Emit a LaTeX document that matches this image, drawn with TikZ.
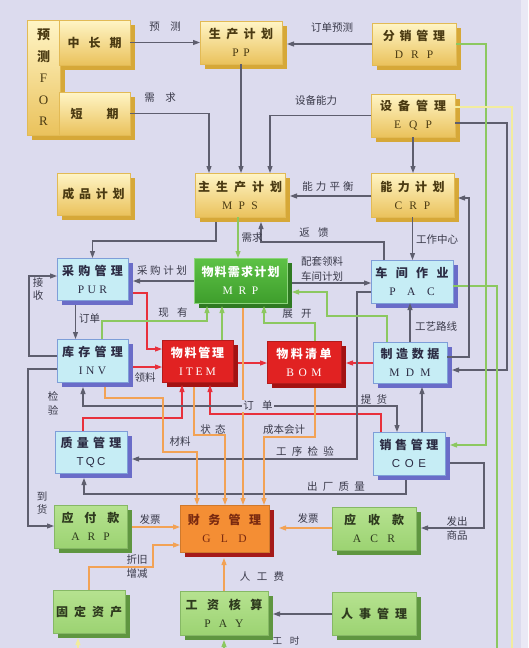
\documentclass[tikz,border=0pt]{standalone}
\usepackage{fontspec}
\setmainfont{Liberation Serif}
\newfontfamily\cjk{Noto Sans CJK SC}
\newfontfamily\lsans{Liberation Sans}
\usetikzlibrary{arrows.meta,calc}
\ExplSyntaxOn
\NewDocumentCommand\ls{O{0.4em}m}{
  \seq_clear:N \l_tmpa_seq
  \tl_map_inline:nn {#2} { \seq_put_right:Nn \l_tmpa_seq {##1} }
  \seq_use:Nn \l_tmpa_seq { \hspace{#1} }
}
\ExplSyntaxOff
\newcommand\lat[2][0.5em]{{\rmfamily\mdseries\fontsize{11.5}{13}\selectfont\ls[#1]{#2}}}
\newcommand\two[4]{\ls[#1]{#2}\\[3pt]\lat[#3]{#4}}
\newcommand\bx[8]{%
  \fill[#7] ({#2+5},{#3+5}) rectangle ({#4+5},{#5+5});
  \node[#6, minimum width={(#4-#2)*1pt}, minimum height={(#5-#3)*1pt}] (#1) at ({(#2+#4)/2},{(#3+#5)/2}) {#8};
}
\definecolor{bg}{HTML}{DCDBEE}
\definecolor{yTop}{HTML}{FFF5C6}
\definecolor{yBot}{HTML}{EAC25C}
\definecolor{ySh}{HTML}{D6A838}
\definecolor{yBd}{HTML}{E2BA55}
\definecolor{yT}{HTML}{4A3A12}
\definecolor{cFill}{HTML}{C6EDF5}
\definecolor{cBd}{HTML}{7E9ED8}
\definecolor{cSh}{HTML}{6A6CC8}
\definecolor{cT}{HTML}{2C2C44}
\definecolor{mTop}{HTML}{5EC246}
\definecolor{mBot}{HTML}{3E9E2C}
\definecolor{mSh}{HTML}{2F7A22}
\definecolor{rFill}{HTML}{E12222}
\definecolor{rSh}{HTML}{A31212}
\definecolor{oFill}{HTML}{F48E34}
\definecolor{oSh}{HTML}{A51A1A}
\definecolor{oT}{HTML}{7A2A10}
\definecolor{gTop}{HTML}{B6E290}
\definecolor{gBot}{HTML}{9CD372}
\definecolor{gBd}{HTML}{86B865}
\definecolor{gSh}{HTML}{5F9640}
\definecolor{gT}{HTML}{2E3A1E}
\definecolor{lnG}{HTML}{5E5E6E}
\definecolor{lnGr}{HTML}{8CC860}
\definecolor{lnR}{HTML}{E8303C}
\definecolor{lnO}{HTML}{F2A255}
\definecolor{lnY}{HTML}{F2EC9E}
\definecolor{tx}{HTML}{3A3A4A}
\begin{document}
\begin{tikzpicture}[x=1pt,y=-1pt,
  base/.style={rectangle, inner sep=0pt, outer sep=0pt, align=center, line width=0.6pt,
    font=\cjk\bfseries\fontsize{12}{15}\selectfont},
  yb/.style={base, draw=yBd, top color=yTop, bottom color=yBot, text=yT},
  cb/.style={base, draw=cBd, fill=cFill, text=cT},
  mb/.style={base, draw=mTop!70!white, top color=mTop, bottom color=mBot, text=white},
  rb/.style={base, draw=rFill!80!black, fill=rFill, text=white},
  ob/.style={base, draw=oFill!85!black, fill=oFill, text=oT},
  gb/.style={base, draw=gBd, top color=gTop, bottom color=gBot, text=gT},
  ln/.style={line width=1.1pt},
  tip/.style={-{Triangle[length=7pt,width=5pt]}},
  gar/.style={ln, draw=lnG, tip},
  gbar/.style={ln, draw=lnG, {Triangle[length=7pt,width=5pt]}-{Triangle[length=7pt,width=5pt]}},
  gnar/.style={ln, draw=lnGr, tip},
  rar/.style={ln, draw=lnR, tip},
  oar/.style={ln, draw=lnO, tip},
  yar/.style={ln, draw=lnY, tip},
  lab/.style={inner sep=1pt, text=tx, font=\cjk\fontsize{10.5}{12}\selectfont}
]
\useasboundingbox (0,0) rectangle (528,648);
\clip (0,0) rectangle (528,648);
\fill[bg] (0,0) rectangle (528,648);
\fill[bg!60!white] (521,0) rectangle (528,648);

% ---------- boxes ----------
\bx{FOR}{27}{20}{60}{135}{yb, font=\cjk\bfseries\fontsize{13}{21.5}\selectfont}{ySh}{预\\测\\{\rmfamily\mdseries F}\\{\rmfamily\mdseries O}\\{\rmfamily\mdseries R}}
\bx{MID}{59}{20}{130}{65}{yb}{ySh}{\ls[0.75em]{中长期}}
\bx{SHORT}{59}{92}{130}{135}{yb}{ySh}{短\hspace{2em}期}
\bx{PP}{200}{21}{282}{64}{yb}{ySh}{\two{0.45em}{生产计划}{0.4em}{PP}}
\bx{DRP}{372}{23}{456}{65}{yb}{ySh}{\two{0.4em}{分销管理}{0.7em}{DRP}}
\bx{EQP}{371}{94}{455}{137}{yb}{ySh}{\two{0.5em}{设备管理}{0.7em}{EQP}}
\bx{FIN}{57}{173}{130}{215}{yb}{ySh}{\ls[0.4em]{成品计划}}
\bx{MPS}{195}{173}{285}{217}{yb}{ySh}{\two{0.5em}{主生产计划}{0.55em}{MPS}}
\bx{CRP}{371}{173}{454}{217}{yb}{ySh}{\two{0.45em}{能力计划}{0.6em}{CRP}}

\bx{PUR}{57}{258}{128}{300}{cb}{cSh}{\two{0.35em}{采购管理}{0.3em}{PUR}}
\bx{MRP}{194}{258}{287}{303}{mb}{mSh}{\two{0.1em}{物料需求计划}{0.5em}{MRP}}
\bx{PAC}{371}{260}{453}{303}{cb}{cSh}{\two{0.7em}{车间作业}{1em}{PAC}}
\bx{INV}{57}{339}{128}{382}{cb}{cSh}{\two{0.35em}{库存管理}{0.3em}{INV}}
\bx{ITEM}{162}{340}{233}{382}{rb}{rSh}{\two{0.15em}{物料管理}{0.25em}{ITEM}}
\bx{BOM}{267}{341}{341}{383}{rb}{rSh}{\two{0.2em}{物料清单}{0.4em}{BOM}}
\bx{MDM}{373}{342}{447}{383}{cb}{cSh}{\two{0.3em}{制造数据}{0.55em}{MDM}}
\bx{TQC}{55}{431}{127}{473}{cb}{cSh}{\ls[0.35em]{质量管理}\\[3pt]{\lsans\mdseries\fontsize{11.5}{13}\selectfont\ls[0.2em]{TQC}}}
\bx{COE}{373}{432}{445}{475}{cb}{cSh}{\ls[0.3em]{销售管理}\\[3pt]{\lsans\mdseries\fontsize{11.5}{13}\selectfont\ls[0.4em]{COE}}}

\bx{ARP}{54}{505}{127}{548}{gb}{gSh}{\two{0.9em}{应付款}{0.7em}{ARP}}
\bx{GLD}{180}{505}{269}{552}{ob}{oSh}{\two{0.7em}{财务管理}{0.9em}{GLD}}
\bx{ACR}{332}{507}{416}{550}{gb}{gSh}{\two{1em}{应收款}{0.8em}{ACR}}
\bx{FA}{53}{590}{125}{633}{gb}{gSh}{\ls[0.5em]{固定资产}}
\bx{PAY}{180}{591}{268}{635}{gb}{gSh}{\two{0.8em}{工资核算}{0.7em}{PAY}}
\bx{HR}{332}{592}{416}{635}{gb}{gSh}{\ls[0.5em]{人事管理}}

% ---------- connectors: top ----------
\draw[gar] (MID.east) -- (PP.west |- MID.east);
\draw[gar] (DRP.west) -- ($(PP.east |- DRP.west)+(5,0)$);
\draw[gar] (SHORT.east) -| ($(MPS.north)+(-31,0)$);
\draw[gar] (PP.south) -- (PP.south |- MPS.north);
\draw[gar] (EQP.west) -| ($(MPS.north)+(30,0)$);
\draw[gar] (EQP.south) -- (EQP.south |- CRP.north);
\draw[gar] (EQP.east |- 0,123) -- (507,123) |- ($(MDM.east |- 0,370)+(5,0)$);
\draw[gnar] (DRP.east) -| (486,445) -- ($(COE.east |- 0,445)+(5,0)$);
\draw[gnar] (PAC.east |- 0,286) -- (497,286) -- (497,660) -| ($(PAY.south)+(0,5)$);
\draw[yar] (EQP.east |- 0,107) -- (512,107) -- (512,660) -| ($(FA.south)+(-11,5)$);
\draw[gar] (CRP.west |- 0,196) -- ($(MPS.east |- 0,196)+(5,0)$);
\draw[gnar] ($(MPS.south)+(-2,0)$) -- ($(MPS.south |- MRP.north)+(-2,0)$);
\draw[gar] ($(PAC.north)+(-28,0)$) |- (261,242) -- ($(MPS.south -| 261,0)+(0,5)$);
\draw[gar] (CRP.south) -- (CRP.south |- PAC.north);
\draw[gar] (MDM.east |- 0,357) -- (469,357) |- ($(CRP.east |- 0,198)+(4,0)$);
\draw[gar] (MDM.north) -- (MDM.north |- PAC.south);
\draw[gar] ($(COE.north)+(13,0)$) -- ($(COE.north |- MDM.south)+(13,4)$);
\draw[gar] ($(MPS.south)+(-24,5)$) |- (PUR.north |- 0,241) -- (PUR.north);
\draw[gar] (MRP.west |- 0,281) -- ($(PUR.east |- 0,281)+(5,0)$);
\draw[gar] ($(MRP.east |- 0,283)+(5,0)$) -- (PAC.west |- 0,283);
\draw[gar] ($(PUR.south)+(-17,5)$) -- ($(PUR.south |- INV.north)+(-17,0)$);
\draw[gar] (INV.west |- 0,356) -- (29,356) |- (PUR.west |- 0,276);
\draw[gar] (INV.west |- 0,369) -- (28,369) |- (ARP.west |- 0,526);

% ---------- red ----------
\draw[rar] ($(PUR.east |- 0,293)+(5,0)$) -| (147,349) -- (ITEM.west |- 0,349);
\draw[rar] ($(INV.east |- 0,367)+(5,0)$) -- (ITEM.west |- 0,367);
\draw[rar] ($(ITEM.east |- 0,363)+(5,0)$) -- (BOM.west |- 0,363);
\draw[rar] (MDM.west |- 0,363) -- ($(BOM.east |- 0,363)+(5,0)$);
\draw[rar] ($(TQC.north)+(-8,0)$) |- (182,418) -- ($(ITEM.south -| 182,0)+(0,3)$);
\draw[rar] ($(COE.north)+(-28,0)$) |- (210,414) -- ($(ITEM.south -| 210,0)+(0,3)$);

% ---------- grey lower ----------
\draw[gbar] ($(INV.south -| 83,0)+(0,5)$) |- (397,406) -- (COE.north -| 397,0);
\draw[gar] (PAC.west |- 0,292) -- (357,292) |- ($(TQC.east |- 0,459)+(5,0)$);
\draw[gar] ($(COE.south -| 406,0)+(0,5)$) |- (84,494) -- ($(TQC.south -| 84,0)+(0,5)$);
\draw[gar] ($(COE.east |- 0,463)+(5,0)$) -- (484,463) |- ($(ACR.east |- 0,528)+(5,0)$);
\draw[gar] (HR.west |- 0,614) -- ($(PAY.east |- 0,614)+(5,0)$);

% ---------- orange ----------
\draw[oar] (ACR.west |- 0,528) -- ($(GLD.east |- 0,528)+(10,0)$);
\draw[oar] ($(ARP.east |- 0,527)+(5,0)$) -- (GLD.west |- 0,527);
\draw[oar] (FA.north) |- (153,567) |- (GLD.west |- 0,545);
\draw[oar] (PAY.north) -- ($(GLD.south -| PAY.north)+(0,6)$);
\draw[oar] ($(INV.south -| 105,0)+(0,5)$) |- (163,398) |- (197,452) -- (GLD.north -| 197,0);
\draw[oar] ($(ITEM.south -| 194,0)+(0,5)$) |- (225,435) -- (GLD.north -| 225,0);
\draw[oar] ($(MRP.south -| 243,0)+(0,5)$) -- (GLD.north -| 243,0);
\draw[oar] ($(BOM.south -| 315,0)+(0,5)$) |- (264,437) -- (GLD.north -| 264,0);

% ---------- green into MRP ----------
\draw[gnar] (INV.north -| 102,0) |- (207,321) -- ($(MRP.south -| 207,0)+(0,3)$);
\draw[gnar] (ITEM.north -| 222,0) -- ($(MRP.south -| 222,0)+(0,3)$);
\draw[gnar] (BOM.north -| 315,0) |- (264,323) -- ($(MRP.south -| 264,0)+(0,3)$);
\draw[gnar] (MDM.north -| 387,0) |- (327,316) |- ($(MRP.east |- 0,292)+(5,0)$);

% ---------- labels ----------
\node[lab] (t1) at (165,27) {预\hspace{1em}测};
\node[lab] (t2) at (332,28) {订单预测};
\node[lab] (t3) at (160,98) {需\hspace{1em}求};
\node[lab] (t4) at (316,101) {设备能力};
\node[lab] (t5) at (328,187) {\ls[0.3em]{能力平衡}};
\node[lab] (t6) at (252,238) {需求};
\node[lab] (t7) at (314,233) {返\hspace{0.8em}馈};
\node[lab] (t8) at (437,240) {工作中心};
\node[lab] (t9) at (162,271) {\ls[0.25em]{采购计划}};
\node[lab] (t10) at (322,262) {配套领料};
\node[lab] (t11) at (322,276) {车间计划};
\node[lab, anchor=west] (t12) at (78,319) {订单};
\node[lab] (t13) at (38,283) {接};
\node[lab] (t14) at (38,296) {收};
\node[lab] (t15) at (173,313) {现\hspace{0.8em}有};
\node[lab] (t16) at (297,314) {展\hspace{0.8em}开};
\node[lab] (t17) at (436,326) {工艺路线};
\node[lab] (t18) at (145,378) {领料};
\node[lab] (t19) at (53,396) {检};
\node[lab] (t20) at (53,410) {验};
\node[lab, fill=bg] (t21) at (258,406) {订\hspace{0.8em}单};
\node[lab] (t22) at (374,399) {提\hspace{0.5em}货};
\node[lab] (t23) at (180,441) {材料};
\node[lab] (t24) at (213,429) {状\hspace{0.4em}态};
\node[lab] (t25) at (284,430) {成本会计};
\node[lab] (t26) at (305,451) {\ls[0.5em]{工序检验}};
\node[lab] (t27) at (336,487) {\ls[0.5em]{出厂质量}};
\node[lab] (t28) at (42,496) {到};
\node[lab] (t29) at (42,509) {货};
\node[lab] (t30) at (150,519) {发票};
\node[lab] (t31) at (308,518) {发票};
\node[lab] (t32) at (457,521) {发出};
\node[lab] (t33) at (457,535) {商品};
\node[lab] (t34) at (137,560) {折旧};
\node[lab] (t35) at (137,574) {增减};
\node[lab] (t36) at (262,577) {\ls[0.6em]{人工费}};
\node[lab, font=\cjk\fontsize{9.5}{11}\selectfont] (t37) at (286,641) {工\hspace{0.8em}时};
\end{tikzpicture}
\end{document}
